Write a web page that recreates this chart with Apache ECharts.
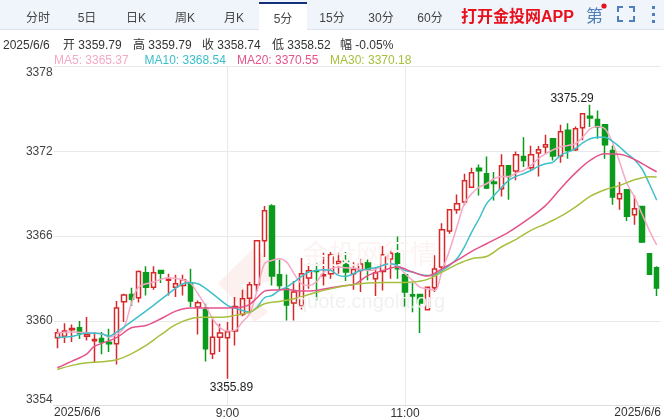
<![CDATA[<!DOCTYPE html>
<html><head><meta charset="utf-8">
<style>html,body{margin:0;padding:0;background:#fff}#c{width:664px;height:420px}</style>
<script src="https://cdn.jsdelivr.net/npm/echarts@6/dist/echarts.min.js"></script>
</head><body><div id="c"></div>
<script>
const opens=[3358.80,3358.91,3359.36,3359.50,3358.91,3358.58,3358.75,3358.47,3358.37,3361.35,
3361.86,3361.63,3363.40,3362.38,3363.56,3362.86,3362.38,3362.50,3362.69,3360.97,
3360.80,3357.66,3358.84,3358.80,3359.27,3360.45,3361.60,3362.55,3365.66,3368.12,
3363.26,3362.24,3361.25,3361.04,3363.02,3363.54,3363.19,3363.33,3364.04,3364.25,
3363.33,3363.56,3364.11,3362.97,3363.49,3364.37,3364.74,3363.26,3361.84,3361.86,
3360.78,3362.34,3363.80,3366.35,3367.86,3368.40,3369.46,3370.79,3370.41,3369.82,
3369.35,3370.97,3370.60,3371.63,3370.83,3371.87,3372.30,3372.89,3371.66,3373.48,
3372.11,3373.66,3374.47,3374.25,3373.88,3372.06,3368.64,3369.27,3367.50,3368.09,
3364.74,3363.75];
const closes=[3359.15,3359.27,3359.46,3359.13,3359.03,3358.68,3358.49,3358.37,3360.90,3361.82,
3361.53,3363.49,3362.38,3363.40,3363.37,3362.93,3362.62,3362.90,3361.39,3361.27,
3358.02,3358.84,3359.13,3359.22,3361.01,3361.56,3362.55,3365.66,3367.79,3363.16,
3362.50,3361.11,3362.03,3363.33,3363.54,3363.49,3363.26,3364.67,3364.20,3363.45,
3363.63,3364.01,3363.61,3363.40,3364.67,3364.77,3363.68,3362.03,3361.75,3361.25,
3362.38,3363.66,3366.44,3367.86,3368.28,3369.91,3370.48,3370.62,3369.39,3369.72,
3370.97,3370.22,3371.75,3371.35,3371.75,3372.11,3372.46,3371.66,3373.38,3372.06,
3373.59,3374.66,3374.35,3373.71,3372.46,3368.76,3368.99,3367.39,3367.93,3365.57,
3363.30,3362.31];
const lows=[3358.06,3358.42,3358.49,3358.70,3358.61,3357.07,3357.62,3357.78,3356.91,3359.91,
3361.04,3361.30,3361.79,3362.19,3362.67,3361.79,3361.68,3361.79,3360.97,3359.03,
3357.12,3357.29,3357.78,3355.89,3358.25,3360.31,3360.50,3362.03,3364.51,3362.50,
3362.15,3360.02,3360.02,3360.80,3362.27,3361.44,3362.50,3362.97,3363.33,3362.81,
3362.19,3362.03,3362.86,3361.75,3362.15,3362.97,3362.97,3360.90,3360.61,3359.13,
3360.78,3362.03,3363.56,3366.16,3367.58,3368.17,3369.46,3368.87,3369.32,3368.52,
3368.80,3368.57,3369.94,3370.88,3370.69,3370.22,3371.82,3371.35,3371.19,3371.47,
3372.01,3372.77,3373.71,3372.89,3371.47,3368.21,3367.86,3367.06,3366.80,3365.50,
3363.30,3361.75];
const highs=[3359.43,3359.83,3359.74,3359.98,3360.26,3359.20,3359.20,3359.43,3361.39,3361.91,
3362.34,3363.56,3363.85,3363.85,3363.61,3363.33,3363.26,3363.26,3363.68,3361.44,
3361.20,3360.19,3359.79,3359.91,3361.68,3362.19,3362.74,3365.69,3368.12,3368.24,
3364.32,3363.28,3362.81,3364.44,3364.04,3364.11,3364.81,3364.86,3364.81,3364.86,
3364.15,3364.39,3364.34,3363.75,3365.29,3365.03,3365.97,3363.33,3362.67,3361.86,
3362.38,3364.63,3366.91,3367.86,3368.94,3370.41,3370.83,3371.07,3371.63,3370.53,
3371.78,3370.97,3371.99,3373.00,3372.39,3372.37,3373.17,3372.89,3373.88,3373.99,
3373.76,3374.66,3375.29,3374.89,3373.88,3372.41,3369.82,3369.27,3368.87,3368.09,
3364.74,3363.85];
const ma5=[[0,3359.15],[2,3359.20],[4,3359.15],[6,3359.08],[7,3358.84],[8,3359.01],[9,3359.50],[10,3361.20],[11,3362.38],[13,3362.74],[15,3363.04],[17,3362.90],[18,3362.67],[19,3361.91],[20,3361.09],[21,3360.14],[22,3359.50],[23,3359.27],[24,3359.32],[25,3359.91],[26,3360.50],[27,3362.15],[28,3364.04],[29,3364.27],[30,3364.39],[31,3364.15],[32,3363.33],[33,3362.62],[34,3362.50],[35,3362.74],[36,3363.45],[37,3363.68],[38,3363.80],[39,3363.75],[40,3363.73],[41,3363.63],[42,3363.56],[43,3363.63],[44,3363.92],[45,3364.04],[46,3363.85],[47,3363.33],[48,3362.86],[49,3362.38],[50,3362.27],[51,3362.15],[52,3363.56],[53,3364.98],[54,3366.63],[55,3368.28],[56,3368.99],[57,3369.46],[58,3369.70],[59,3370.05],[60,3370.22],[61,3370.22],[62,3370.45],[63,3370.64],[64,3370.99],[65,3371.47],[66,3371.82],[67,3372.11],[68,3372.30],[69,3372.41],[70,3372.53],[71,3373.00],[72,3373.59],[73,3373.76],[74,3373.59],[75,3372.65],[76,3371.23],[77,3369.70],[78,3368.76],[79,3367.58],[80,3366.40],[81,3365.37]];
const ma10=[[0,3358.84],[2,3358.89],[4,3359.13],[6,3359.08],[7,3358.91],[8,3359.20],[9,3359.55],[11,3360.31],[13,3361.09],[15,3361.91],[17,3362.62],[18,3362.69],[19,3362.62],[21,3361.91],[23,3361.09],[24,3360.90],[25,3360.73],[26,3360.61],[27,3360.97],[28,3361.63],[29,3361.79],[30,3362.15],[31,3362.38],[32,3362.74],[33,3363.14],[34,3363.45],[35,3363.56],[36,3363.61],[37,3363.56],[38,3363.21],[39,3363.14],[40,3363.33],[41,3363.56],[42,3363.68],[43,3363.75],[44,3363.92],[45,3364.04],[46,3363.92],[47,3363.56],[48,3363.45],[49,3363.28],[50,3363.21],[51,3363.26],[52,3363.56],[53,3363.92],[54,3364.39],[55,3365.22],[56,3366.28],[57,3367.22],[58,3368.28],[59,3368.87],[60,3369.42],[61,3369.94],[62,3370.22],[63,3370.41],[64,3370.64],[65,3370.93],[66,3371.12],[67,3371.23],[68,3371.71],[69,3371.94],[70,3372.18],[71,3372.60],[72,3372.89],[73,3373.00],[74,3373.00],[75,3372.72],[76,3372.30],[77,3371.82],[78,3371.40],[79,3370.76],[80,3369.70],[81,3368.54]];
const ma20=[[0,3356.67],[2,3357.14],[4,3357.66],[5,3358.18],[8,3358.80],[10,3359.50],[12,3359.67],[14,3360.14],[16,3360.68],[18,3360.90],[21,3360.90],[24,3360.92],[25,3360.97],[26,3361.16],[27,3361.63],[28,3362.10],[29,3362.17],[31,3362.22],[33,3362.10],[35,3362.15],[37,3362.34],[39,3362.50],[40,3362.55],[42,3363.21],[44,3363.56],[46,3363.80],[48,3363.45],[50,3363.16],[52,3363.68],[54,3364.27],[56,3364.91],[58,3365.45],[61,3366.28],[64,3367.34],[66,3368.17],[68,3369.35],[70,3370.45],[72,3371.35],[74,3371.82],[76,3371.78],[78,3371.42],[80,3370.83],[81,3370.55]];
const ma30=[[0,3356.55],[2,3356.84],[4,3357.03],[6,3357.10],[8,3357.24],[10,3357.66],[12,3358.25],[14,3359.01],[16,3359.72],[18,3360.14],[20,3360.24],[22,3360.24],[24,3360.38],[26,3360.61],[28,3361.20],[30,3361.37],[32,3361.56],[34,3361.86],[36,3362.15],[38,3362.38],[40,3362.57],[42,3362.67],[44,3362.71],[46,3362.71],[48,3362.74],[50,3362.93],[52,3363.45],[54,3363.99],[56,3364.39],[58,3364.55],[60,3365.22],[62,3365.76],[64,3366.40],[66,3366.87],[68,3367.39],[70,3368.05],[72,3368.80],[74,3369.27],[76,3369.58],[78,3369.98],[80,3370.20],[81,3370.18]];
const midTickLabels={23:'9:00',47:'11:00'};
const edgeDate='2025/6/6';
const tabs=['分时','5日','日K','周K','月K','5分','15分','30分','60分'];
const tabCenters=[38,87,136,185,234,283,332,381,430];
const headerTexts=[['2025/6/6',3],['开 3359.79',63],['高 3359.79',133],['收 3358.74',202],['低 3358.52',272],['幅 -0.05%',340]];
const maLegend=[['MA5: 3365.37',54,'#f4a9c6'],['MA10: 3368.54',144.5,'#38bfca'],['MA20: 3370.55',237,'#e5528c'],['MA30: 3370.18',330,'#a6c03e']];

const FONT='"Liberation Sans","Noto Sans CJK SC",sans-serif';
const categories=opens.map((_,i)=>midTickLabels[i]||String(i));
const candles=opens.map((o,i)=>[o,closes[i],lows[i],highs[i]]);
const RED='#d62a2a',GREEN='#0b9a1c';
const txt=(s,x,y,o={})=>({type:'text',x,y,silent:true,z:o.z||5,style:Object.assign({text:s,fontFamily:FONT,fontSize:12,fill:'#333',textVerticalAlign:'middle',verticalAlign:'middle'},o)});
const gfx=[
 {type:'polygon',z:0,shape:{points:[[218,283],[255,247],[285,278],[262,283],[240,284],[268,312],[255,322]]},style:{fill:'#fcf1ee'},silent:true},
 txt('金投网行情',302,254,{fontSize:27,fill:'#fcf4f2',z:0,fontFamily:'"Noto Sans CJK SC"'}),
 txt('quote.cngold.org',296,302,{fontSize:20,fill:'#f1f1f1',z:0}),
 {type:'rect',z:1,shape:{x:0,y:0,width:664,height:29},style:{fill:'#f0f4fb'},silent:true},
 {type:'rect',z:1,shape:{x:0,y:29,width:664,height:1},style:{fill:'#dfe4ec'},silent:true},
 {type:'rect',z:2,shape:{x:259,y:2,width:48,height:28},style:{fill:'#ffffff'},silent:true},
 {type:'rect',z:3,shape:{x:259,y:2,width:48,height:2},style:{fill:'#14307a'},silent:true},
 ...tabs.map((t,i)=>txt(t,tabCenters[i],i===5?20:19,{textAlign:'center',align:'center',fill:'#444'})),
 txt('打开金投网APP',461,18,{fontSize:16,fontWeight:'bold',fill:'#e8101c'}),
 txt('第',586,16,{fontSize:17,fill:'#4f7fb8',fontFamily:'"Noto Sans CJK SC"'}),
 {type:'circle',z:5,shape:{cx:604,cy:6,r:2.6},style:{fill:'#e8101c'},silent:true},
 ...[[[618,12],[618,7],[623,7]],[[629,7],[634,7],[634,12]],[[618,16],[618,21],[623,21]],[[629,21],[634,21],[634,16]]].map(p=>({type:'polyline',z:5,shape:{points:p},style:{stroke:'#4f7fb8',lineWidth:2,fill:'none'},silent:true})),
 ...[7,14,21].map(y=>({type:'rect',z:5,shape:{x:652,y:y-1,width:3,height:3},style:{fill:'#4f7fb8'},silent:true})),
 ...headerTexts.map(h=>txt(h[0],h[1],45.5,{fill:'#333'})),
 ...maLegend.map(m=>txt(m[0],m[1],60.5,{fill:m[2]})),
 txt(edgeDate,54,413,{fill:'#333'}),
 txt(edgeDate,661,413,{fill:'#333',textAlign:'right',align:'right'})
];
const line=(name,data,color)=>({name,type:'line',data,showSymbol:false,symbol:'none',smooth:0.35,connectNulls:true,z:4,lineStyle:{color,width:1.5},itemStyle:{color},silent:true});
const chart=echarts.init(document.getElementById('c'),null,{renderer:'canvas'});
chart.setOption({
 animation:false,backgroundColor:'#fff',
 textStyle:{fontFamily:FONT},
 grid:{left:53.6,right:3.6,top:66.5,height:339},
 graphic:{elements:gfx},
 xAxis:{type:'category',data:categories,boundaryGap:true,
  axisLine:{lineStyle:{color:'#dddddd'}},axisTick:{show:false,alignWithLabel:true},
  axisLabel:{interval:(i)=>!!midTickLabels[i],formatter:(v,i)=>midTickLabels[i]||'',color:'#333',fontSize:12,margin:2,fontFamily:FONT},
  splitLine:{show:true,alignWithLabel:true,interval:(i)=>!!midTickLabels[i],lineStyle:{color:'#e9e9e9',width:1}}},
 yAxis:{type:'value',min:3354,max:3378,interval:6,scale:true,
  axisLine:{show:false},axisTick:{show:false},
  axisLabel:{color:'#444',fontSize:12,margin:1,fontFamily:FONT,verticalAlignMinLabel:'bottom',verticalAlignMaxLabel:'top',formatter:v=>String(v)},
  splitLine:{lineStyle:{color:'#e9e9e9',width:1}}},
 series:[
  {name:'K',type:'candlestick',data:candles,barWidth:5,z:3,silent:true,
   itemStyle:{color:'#ffffff',color0:GREEN,borderColor:RED,borderColor0:GREEN,borderWidth:1.5},
   markPoint:{silent:true,symbol:'circle',symbolSize:0,animation:false,
    data:[
     {coord:[72,3375.29],label:{show:true,position:'inside',offset:[-18,-6],formatter:'3375.29',color:'#222',fontSize:12,fontFamily:FONT}},
     {coord:[23,3355.89],label:{show:true,position:'inside',offset:[4,9],formatter:'3355.89',color:'#222',fontSize:12,fontFamily:FONT}}
    ]}},
  line('MA5',ma5,'#f4a9c6'),
  line('MA10',ma10,'#3fbfcb'),
  line('MA20',ma20,'#e5528c'),
  line('MA30',ma30,'#a6c03e')
 ]
});
</script></body></html>]]>
